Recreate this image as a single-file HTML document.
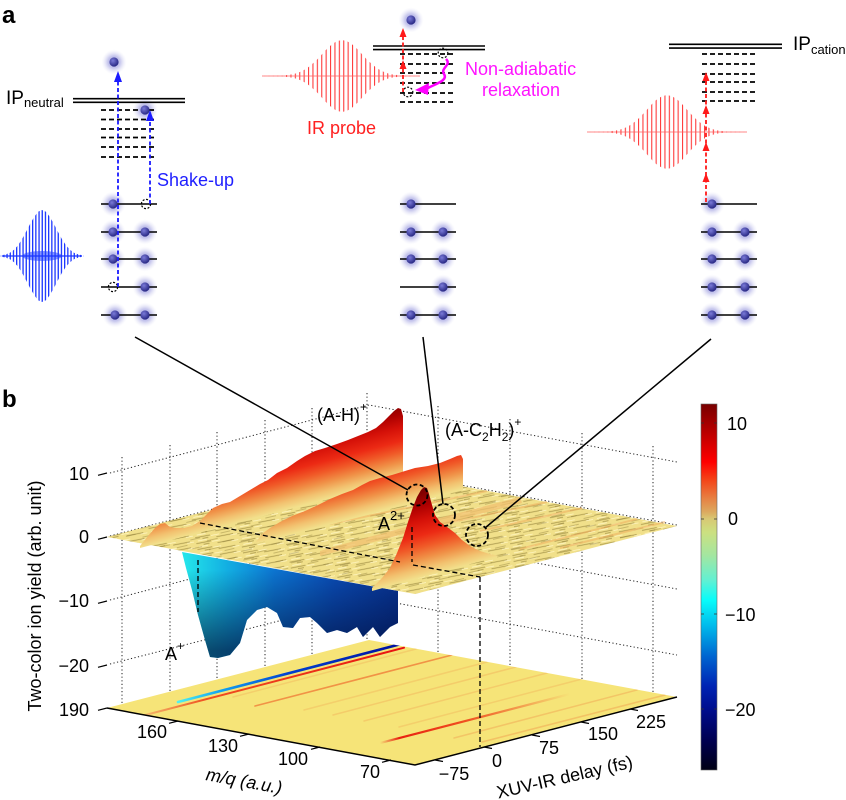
<!DOCTYPE html>
<html><head><meta charset="utf-8">
<style>
html,body{margin:0;padding:0;background:#fff;}
body{width:846px;height:800px;overflow:hidden;}
svg{display:block;font-family:"Liberation Sans",Arial,sans-serif;}
</style></head><body>
<svg width="846" height="800" viewBox="0 0 846 800" xmlns="http://www.w3.org/2000/svg">
<defs>
<radialGradient id="glow"><stop offset="0" stop-color="#8a8ad8" stop-opacity=".9"/><stop offset=".5" stop-color="#b0b0e6" stop-opacity=".7"/><stop offset="1" stop-color="#e2e2f6" stop-opacity="0"/></radialGradient>
<radialGradient id="core" cx=".38" cy=".35" r=".7"><stop offset="0" stop-color="#7a7ad8"/><stop offset="1" stop-color="#22227e"/></radialGradient>
<circle id="gl" r="12.5" fill="url(#glow)"/>
<circle id="co" r="4.6" fill="url(#core)"/>
<pattern id="redStripe" width="4.4" height="10" patternUnits="userSpaceOnUse"><rect x="0" y="0" width="1.1" height="10" fill="#ff3c3c"/></pattern>
<pattern id="blueStripe" width="3.2" height="10" patternUnits="userSpaceOnUse"><rect x="0" y="0" width="1.3" height="10" fill="#1a35ff"/></pattern>
<pattern id="tex" width="44" height="6" patternUnits="userSpaceOnUse" patternTransform="rotate(-11)">
<rect width="44" height="6" fill="#f1e08a"/>
<path d="M1 1.2h15M22 4.2h17M8 3.2h6" stroke="#9a8a40" stroke-width=".9" opacity=".8"/>
<path d="M17 1.9h8M36 5.1h7M3 4.8h9" stroke="#fff6c4" stroke-width=".8"/>
</pattern>
<pattern id="tex2" width="31" height="9" patternUnits="userSpaceOnUse" patternTransform="rotate(-13)">
<path d="M2 2h10M18 6.5h11" stroke="#8c7c38" stroke-width=".8" opacity=".55"/>
</pattern>
<linearGradient id="rg1" gradientUnits="userSpaceOnUse" x1="270" y1="514" x2="251" y2="442">
<stop offset="0" stop-color="#f2e08c"/><stop offset=".1" stop-color="#f2c270"/><stop offset=".22" stop-color="#f09248"/><stop offset=".36" stop-color="#f05a28"/><stop offset=".5" stop-color="#ec2a14"/><stop offset=".68" stop-color="#d41008"/><stop offset=".84" stop-color="#ae0000"/><stop offset="1" stop-color="#800000"/>
</linearGradient>
<linearGradient id="rg2" gradientUnits="userSpaceOnUse" x1="360" y1="516" x2="341" y2="444">
<stop offset="0" stop-color="#f2e08c"/><stop offset=".1" stop-color="#f2c270"/><stop offset=".22" stop-color="#f09248"/><stop offset=".36" stop-color="#f05a28"/><stop offset=".5" stop-color="#ec2a14"/><stop offset=".68" stop-color="#d41008"/><stop offset=".84" stop-color="#ae0000"/><stop offset="1" stop-color="#800000"/>
</linearGradient>
<linearGradient id="rg3" gradientUnits="userSpaceOnUse" x1="430" y1="575" x2="409" y2="496">
<stop offset="0" stop-color="#f2e08c"/><stop offset=".1" stop-color="#f2c270"/><stop offset=".22" stop-color="#f09248"/><stop offset=".36" stop-color="#f05a28"/><stop offset=".5" stop-color="#ec2a14"/><stop offset=".68" stop-color="#d41008"/><stop offset=".84" stop-color="#ae0000"/><stop offset="1" stop-color="#800000"/>
</linearGradient>
<linearGradient id="wellH" gradientUnits="userSpaceOnUse" x1="185" y1="0" x2="398" y2="0">
<stop offset="0" stop-color="#24e4ea"/><stop offset=".2" stop-color="#12aee2"/><stop offset=".42" stop-color="#0c74d0"/><stop offset=".7" stop-color="#0a4cb4"/><stop offset="1" stop-color="#083494"/>
</linearGradient>
<linearGradient id="wellV" gradientUnits="userSpaceOnUse" x1="0" y1="570" x2="0" y2="650">
<stop offset="0" stop-color="#000830" stop-opacity="0"/><stop offset="1" stop-color="#000830" stop-opacity=".65"/>
</linearGradient>
<linearGradient id="cbar" x1="0" y1="0" x2="0" y2="1">
<stop offset="0" stop-color="#780000"/><stop offset=".052" stop-color="#a40000"/><stop offset=".112" stop-color="#d80000"/><stop offset=".158" stop-color="#ff0000"/><stop offset=".207" stop-color="#f44418"/><stop offset=".254" stop-color="#e87c40"/><stop offset=".295" stop-color="#dcaa60"/><stop offset=".314" stop-color="#d8c874"/><stop offset=".35" stop-color="#cce080"/><stop offset=".413" stop-color="#a4e6a0"/><stop offset=".481" stop-color="#62f0d2"/><stop offset=".536" stop-color="#08fcfa"/><stop offset=".604" stop-color="#00bcec"/><stop offset=".69" stop-color="#0064d0"/><stop offset=".77" stop-color="#0024b4"/><stop offset=".84" stop-color="#000c8a"/><stop offset=".92" stop-color="#000050"/><stop offset="1" stop-color="#000014"/>
</linearGradient>
<linearGradient id="fb" gradientUnits="userSpaceOnUse" x1="178" y1="0" x2="400" y2="0">
<stop offset="0" stop-color="#50f0f0"/><stop offset=".2" stop-color="#10a0f0"/><stop offset=".5" stop-color="#0040d0"/><stop offset="1" stop-color="#0010a0"/>
</linearGradient>
<linearGradient id="fr1" gradientUnits="userSpaceOnUse" x1="140" y1="0" x2="404" y2="0">
<stop offset="0" stop-color="#f3c070"/><stop offset=".25" stop-color="#f05020"/><stop offset="1" stop-color="#e81010"/>
</linearGradient>
<linearGradient id="fr2" gradientUnits="userSpaceOnUse" x1="380" y1="0" x2="570" y2="0">
<stop offset="0" stop-color="#f6e478"/><stop offset=".1" stop-color="#e82010"/><stop offset=".45" stop-color="#f05020"/><stop offset="1" stop-color="#f6e478"/>
</linearGradient>
<clipPath id="floorClip"><polygon points="107,708 369,640 677,697 415,765"/></clipPath>
</defs>

<!-- ================= PANEL A ================= -->
<text x="2" y="23" font-size="24" font-weight="bold">a</text>

<path d="M0,256 L2,255.2 L6,254.3 L10,252.7 L14,249.8 L18,245.4 L22,239.3 L26,231.9 L30,224.1 L34,217.2 L38,211.8 L42,210 L46,211.8 L50,217.2 L54,224.1 L58,231.9 L62,239.3 L66,245.4 L70,249.8 L74,252.7 L78,254.3 L82,255.2 L84,256 L82,256.8 L78,257.7 L74,259.3 L70,262.2 L66,266.6 L62,272.7 L58,280.1 L54,287.9 L50,294.8 L46,300.2 L42,302 L38,300.2 L34,294.8 L30,287.9 L26,280.1 L22,272.7 L18,266.6 L14,262.2 L10,259.3 L6,257.7 L2,256.8 Z" fill="url(#blueStripe)"/>
<ellipse cx="42" cy="256" rx="20" ry="5" fill="#2040ff" opacity=".55"/>
<line x1="2" y1="256" x2="82" y2="256" stroke="#1a35ff" stroke-width="1.2"/>

<path d="M262,76 L282,75.6 L292,74.4 L297,73.1 L302,71.1 L307,68.2 L312,64.3 L317,59.6 L322,54.2 L327,48.8 L332,44.2 L337,41.1 L342,40 L347,41.1 L352,44.2 L357,48.8 L362,54.2 L367,59.6 L372,64.3 L377,68.2 L382,71.1 L387,73.1 L392,74.4 L402,75.6 L422,76 L402,76.4 L392,77.6 L387,78.9 L382,80.9 L377,83.8 L372,87.7 L367,92.4 L362,97.8 L357,103.2 L352,107.8 L347,110.9 L342,112 L337,110.9 L332,107.8 L327,103.2 L322,97.8 L317,92.4 L312,87.7 L307,83.8 L302,80.9 L297,78.9 L292,77.6 L282,76.4 Z" fill="url(#redStripe)"/>
<line x1="262" y1="76" x2="420" y2="76" stroke="#ff6060" stroke-width=".8"/>
<path d="M587,132 L607,131.6 L617,130.4 L622,129 L627,127 L632,124 L637,120 L642,115.1 L647,109.6 L652,104 L657,99.3 L662,96.2 L667,95 L672,96.2 L677,99.3 L682,104 L687,109.6 L692,115.1 L697,120 L702,124 L707,127 L712,129 L717,130.4 L727,131.6 L747,132 L727,132.4 L717,133.6 L712,135 L707,137 L702,140 L697,144 L692,148.9 L687,154.4 L682,160 L677,164.7 L672,167.8 L667,169 L662,167.8 L657,164.7 L652,160 L647,154.4 L642,148.9 L637,144 L632,140 L627,137 L622,135 L617,133.6 L607,132.4 Z" fill="url(#redStripe)"/>
<line x1="587" y1="132" x2="747" y2="132" stroke="#ff6060" stroke-width=".8"/>

<g>
<use href="#gl" x="114" y="62"/><use href="#gl" x="145" y="110"/>
<use href="#gl" x="113" y="204"/><use href="#gl" x="113" y="232"/><use href="#gl" x="145" y="232"/><use href="#gl" x="113" y="259"/><use href="#gl" x="145" y="259"/><use href="#gl" x="145" y="287"/><use href="#gl" x="115" y="315"/><use href="#gl" x="145" y="315"/>
<use href="#gl" x="411" y="20"/>
<use href="#gl" x="411" y="204"/><use href="#gl" x="411" y="232"/><use href="#gl" x="443" y="232"/><use href="#gl" x="411" y="259"/><use href="#gl" x="443" y="259"/><use href="#gl" x="443" y="287"/><use href="#gl" x="411" y="315"/><use href="#gl" x="443" y="315"/>
<use href="#gl" x="712" y="204"/><use href="#gl" x="712" y="232"/><use href="#gl" x="745" y="232"/><use href="#gl" x="712" y="259"/><use href="#gl" x="745" y="259"/><use href="#gl" x="712" y="287"/><use href="#gl" x="745" y="287"/><use href="#gl" x="712" y="315"/><use href="#gl" x="745" y="315"/>
</g>

<g stroke="#000" fill="none">
<path d="M73 98.7H185M73 102.3H185M373 46H485M373 49.6H485M669 44.3H782M669 48.1H782" stroke-width="1.6"/>
<path d="M101 110H157M101 119.5H157M101 129H157M101 137.5H157M101 147H157M101 157H157M400 54H455M400 64H455M400 73H455M400 83H455M400 93H455M400 102H455M702 54H758M702 64H758M702 74H758M702 82H758M702 92H758M702 101H758" stroke-width="1.8" stroke-dasharray="5 3"/>
<path d="M101 204H157M101 232H157M101 259H157M101 287H157M101 315H157M400 204H456M400 232H456M400 259H456M400 287H456M400 315H456M701 204H757M701 232H757M701 259H757M701 287H757M701 315H757" stroke-width="1.6"/>
</g>

<g>
<use href="#co" x="114" y="62"/><use href="#co" x="145" y="110"/>
<use href="#co" x="113" y="204"/><use href="#co" x="113" y="232"/><use href="#co" x="145" y="232"/><use href="#co" x="113" y="259"/><use href="#co" x="145" y="259"/><use href="#co" x="145" y="287"/><use href="#co" x="115" y="315"/><use href="#co" x="145" y="315"/>
<use href="#co" x="411" y="20"/>
<use href="#co" x="411" y="204"/><use href="#co" x="411" y="232"/><use href="#co" x="443" y="232"/><use href="#co" x="411" y="259"/><use href="#co" x="443" y="259"/><use href="#co" x="443" y="287"/><use href="#co" x="411" y="315"/><use href="#co" x="443" y="315"/>
<use href="#co" x="712" y="204"/><use href="#co" x="712" y="232"/><use href="#co" x="745" y="232"/><use href="#co" x="712" y="259"/><use href="#co" x="745" y="259"/><use href="#co" x="712" y="287"/><use href="#co" x="745" y="287"/><use href="#co" x="712" y="315"/><use href="#co" x="745" y="315"/>
</g>

<g fill="none" stroke="#000" stroke-width="1.2" stroke-dasharray="2 1.6">
<circle cx="113" cy="287" r="4.6"/><circle cx="146" cy="204" r="4.6"/>
<circle cx="443" cy="53" r="4.8"/><circle cx="408" cy="92" r="4.8"/>
</g>

<g stroke="#1a1aff" stroke-width="1.8" stroke-dasharray="4 2.5">
<line x1="118" y1="287" x2="118" y2="80"/>
<line x1="150" y1="204" x2="150" y2="119"/>
</g>
<polygon points="118,71 114,82 122,82" fill="#1a1aff"/>
<polygon points="150,110 146,121 154,121" fill="#1a1aff"/>
<text x="157" y="186" font-size="18" fill="#1f1fff">Shake-up</text>

<g stroke="#ff1a1a" stroke-width="1.8" stroke-dasharray="4 2.5">
<line x1="403" y1="92" x2="403" y2="34"/>
<line x1="706" y1="202" x2="706" y2="78"/>
</g>
<g fill="#ff1a1a">
<polygon points="403,28 399.5,37 406.5,37"/><polygon points="403,60 399.5,69 406.5,69"/>
<polygon points="706,72 702.5,81 709.5,81"/><polygon points="706,105 702.5,114 709.5,114"/><polygon points="706,142 702.5,151 709.5,151"/><polygon points="706,173 702.5,182 709.5,182"/>
</g>

<path d="M446,59 C452,65 440,68 444,74 C448,80 438,83 428,88" fill="none" stroke="#ff00ff" stroke-width="2.5"/>
<polygon points="415,90 429,83 428,95" fill="#ff00ff"/>

<text x="6" y="104" font-size="19">IP<tspan font-size="13" dy="3">neutral</tspan></text>
<text x="307" y="134" font-size="18" fill="#ff2020">IR probe</text>
<text x="465" y="75" font-size="18" fill="#ff14ff">Non-adiabatic</text>
<text x="482" y="96" font-size="18" fill="#ff14ff">relaxation</text>
<text x="793" y="50" font-size="19">IP<tspan font-size="13" dy="4">cation</tspan></text>

<!-- ================= PANEL B ================= -->
<text x="2" y="407" font-size="24" font-weight="bold">b</text>

<g stroke="#222" stroke-width="1" stroke-dasharray="1.2 2.4" fill="none">
<path d="M110 473L369 405L677 462M110 536L369 468L677 525M110 600L369 532L677 589M110 664L369 598L677 655"/>
<path d="M122 457V704M170 445V692M217 432V679M265 420V667M312 408V655M367 393V640M438 406V653M510 419V666M582 433V679M653 446V693"/>
</g>

<polygon points="107,708 369,640 677,697 415,765" fill="#f6e478"/>
<g clip-path="url(#floorClip)" fill="none" stroke-linecap="round">
<g stroke="#f0a050" stroke-width="1.5">
<line x1="233" y1="697" x2="416" y2="649" opacity=".3"/>
<line x1="304" y1="710" x2="487" y2="662" opacity=".3"/>
<line x1="333" y1="715" x2="516" y2="667" opacity=".35"/>
<line x1="364" y1="721" x2="547" y2="673" opacity=".35"/>
<line x1="399" y1="727" x2="582" y2="679" opacity=".3"/>
<line x1="454" y1="738" x2="637" y2="690" opacity=".45"/>
<line x1="482" y1="742" x2="665" y2="695" opacity=".5"/>
</g>
<line x1="255" y1="706" x2="452" y2="655" stroke="#f07030" stroke-width="1.6" opacity=".7"/>
<line x1="140" y1="716.4" x2="404" y2="647.7" stroke="url(#fr1)" stroke-width="2"/>
<line x1="178" y1="702" x2="400" y2="644.3" stroke="url(#fb)" stroke-width="2.6"/>
<line x1="380" y1="743" x2="570" y2="694" stroke="url(#fr2)" stroke-width="2.2"/>
</g>
<path d="M107 708L415 765L677 697" fill="none" stroke="#000" stroke-width="1.5"/>

<polygon points="182,552 398,591 398,623 390,627 380,637 373,627 363,637 357,627 347,633 337,630 327,633 317,623 310,617 300,618 293,628 283,627 277,613 267,607 257,610 247,620 240,643 230,655 218,658 210,657 205,640 198,615 192,590 186,568" fill="url(#wellH)"/>
<polygon points="182,552 398,591 398,623 390,627 380,637 373,627 363,637 357,627 347,633 337,630 327,633 317,623 310,617 300,618 293,628 283,627 277,613 267,607 257,610 247,620 240,643 230,655 218,658 210,657 205,640 198,615 192,590 186,568" fill="url(#wellV)"/>
<line x1="198" y1="560" x2="198" y2="612" stroke="#000" stroke-width="1.3" stroke-dasharray="5 3"/>

<polygon points="107,537 369,469 677,526 415,594" fill="url(#tex)"/>
<polygon points="107,537 369,469 677,526 415,594" fill="url(#tex2)"/>
<g stroke="#f0b060" stroke-width="2" opacity=".55" fill="none">
<line x1="330" y1="524" x2="487" y2="491"/>
<line x1="400" y1="533" x2="547" y2="502"/>
<line x1="480" y1="531" x2="582" y2="508"/>
<line x1="520" y1="549" x2="637" y2="519"/>
<line x1="560" y1="548" x2="665" y2="522"/>
</g>

<polygon points="140,546 148,536 155,528 160,524 165,523 170,527 176,528 184,528 192,526 200,521 207,514 213,508 222,504 230,502 240,496 250,490 260,484 268,480 277,473 287,468 297,461 305,456 315,451 325,448 337,444 348,440 358,436 368,432 376,428 383,422 389,416 394,411 398,408 401,409 403,416 403,483 380,486 260,517 140,548" fill="url(#rg1)"/>
<polygon points="255,543 262,534 270,528 280,522 292,516 305,511 318,505 330,499 342,494 353,490 362,485 370,481 380,478 392,475 405,471 415,468 428,466 440,463 450,459 457,456 461,455 463,459 463,490 360,517 255,544" fill="url(#rg2)"/>
<polygon points="320,551 340,545 380,534 420,523 470,510 520,497 522,503 320,556" fill="#f0c070" opacity=".75"/>
<polygon points="372,588 382,578 390,568 397,553 403,538 408,522 413,507 417,497 421,490 424,487 427,488 429,494 432,505 435,515 440,522 447,527 455,533 462,540 470,546 480,551 490,554 500,556 372,591" fill="url(#rg3)"/>

<g stroke="#000" stroke-width="1.3" stroke-dasharray="5 3" fill="none">
<path d="M200 523L400 562"/>
<path d="M413 565L480 577"/>
<path d="M412 527V562"/>
<path d="M480 577V747"/>
</g>
<g fill="none" stroke="#000" stroke-width="1.8" stroke-dasharray="4 2.5">
<circle cx="417" cy="495" r="10.5"/>
<circle cx="444" cy="515" r="11"/>
<circle cx="477" cy="535" r="11"/>
</g>

<g font-size="18">
<text x="317" y="421">(A-H)<tspan dy="-10" font-size="12">+</tspan></text>
<text x="445" y="436">(A-C<tspan font-size="12" dy="5">2</tspan><tspan dy="-5">H</tspan><tspan font-size="12" dy="5">2</tspan><tspan dy="-5">)</tspan><tspan dy="-10" font-size="12">+</tspan></text>
<text x="378" y="530">A<tspan dy="-10" font-size="13">2+</tspan></text>
<text x="165" y="660">A<tspan dy="-10" font-size="12">+</tspan></text>
</g>

<g stroke="#000" stroke-width="1.2">
<path d="M107 473L98 475.3M107 537L98 539.3M107 601L98 603.3M107 665L98 667.3M107 708L98 710.3"/>
<path d="M178 721L169 723.3M249 734L240 736.3M320 747L311 749.3M391 760L382 762.3"/>
<path d="M435 760L443 761.5M484 747L492 748.5M532 735L540 736.5M581 722L589 723.5M630 709L638 710.5"/>
</g>
<g font-size="18" text-anchor="end">
<text x="89" y="480">10</text>
<text x="89" y="543">0</text>
<text x="89" y="607">−10</text>
<text x="89" y="672">−20</text>
<text x="89" y="716">190</text>
</g>
<g font-size="18" text-anchor="middle">
<text x="152" y="738">160</text>
<text x="223" y="752">130</text>
<text x="293" y="765">100</text>
<text x="370" y="778">70</text>
<text x="454" y="780">−75</text>
<text x="497" y="767">0</text>
<text x="549" y="754">75</text>
<text x="603" y="740">150</text>
<text x="651" y="728">225</text>
</g>
<text transform="translate(41,596) rotate(-90)" text-anchor="middle" font-size="18">Two-color ion yield (arb. unit)</text>
<text transform="translate(243,787) rotate(10.5)" text-anchor="middle" font-size="18" font-style="italic">m/q (a.u.)</text>
<text transform="translate(566,783) rotate(-13)" text-anchor="middle" font-size="18">XUV-IR delay (fs)</text>

<rect x="701" y="404" width="16" height="366" fill="url(#cbar)" stroke="#666" stroke-width=".6"/>
<g stroke="#333" stroke-width=".8">
<path d="M701 423h3M714 423h3M701 519h3M714 519h3M701 614h3M714 614h3M701 709h3M714 709h3"/>
</g>
<g font-size="18">
<text x="727" y="430">10</text>
<text x="728" y="525">0</text>
<text x="725" y="621">−10</text>
<text x="725" y="716">−20</text>
</g>

<g stroke="#000" stroke-width="1.5">
<line x1="135" y1="337" x2="408" y2="490"/>
<line x1="423" y1="337" x2="443" y2="504"/>
<line x1="711" y1="339" x2="485" y2="528"/>
</g>
</svg>
</body></html>
